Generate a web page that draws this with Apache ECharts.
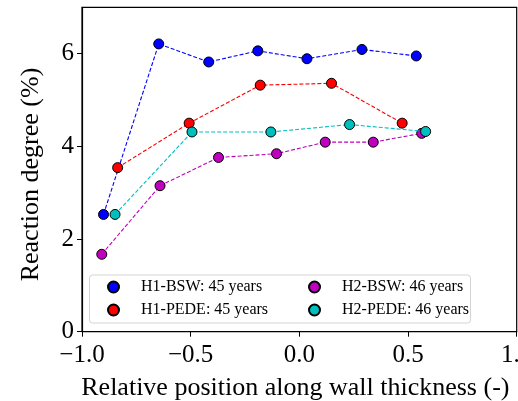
<!DOCTYPE html>
<html>
<head>
<meta charset="utf-8">
<script src="https://cdn.jsdelivr.net/npm/echarts@6/dist/echarts.min.js"></script>
<style>
  html, body { margin: 0; padding: 0; background: #fff; }
  #chart { width: 518px; height: 401px; }
</style>
</head>
<body>
<div id="chart"></div>
<script>
// Reaction degree profiles across the wall (relative position -1 .. 1)
const h1BswX = [-0.901, -0.647, -0.417, -0.191, 0.035, 0.288, 0.538];
const h1BswY = [2.53, 6.21, 5.82, 6.06, 5.89, 6.09, 5.95];

const h1PedeX = [-0.836, -0.507, -0.180, 0.148, 0.473];
const h1PedeY = [3.54, 4.50, 5.32, 5.36, 4.50];

const h2BswX = [-0.909, -0.641, -0.372, -0.105, 0.119, 0.340, 0.563];
const h2BswY = [1.67, 3.15, 3.76, 3.84, 4.09, 4.09, 4.28];

const h2PedeX = [-0.848, -0.494, -0.131, 0.231, 0.581];
const h2PedeY = [2.53, 4.31, 4.31, 4.47, 4.32];

const seriesNames = ['H1-BSW: 45 years', 'H1-PEDE: 45 years', 'H2-BSW: 46 years', 'H2-PEDE: 46 years'];
const seriesColors = ['#0000ff', '#ff0000', '#bf00bf', '#00bfbf'];
const yTicks = [0, 2, 4, 6];

const FONT = '"Liberation Serif", "Times New Roman", serif';

function pairs(xs, ys) {
  return xs.map((x, i) => [x, ys[i]]);
}

function lineSeries(idx, xs, ys) {
  return {
    name: seriesNames[idx],
    type: 'line',
    data: pairs(xs, ys),
    symbol: 'circle',
    symbolSize: 10,
    z: 2 + idx * 0.1,
    itemStyle: { color: seriesColors[idx], borderColor: '#000', borderWidth: 1 },
    lineStyle: { color: seriesColors[idx], width: 1.1, type: [4, 2] },
    emphasis: { disabled: true },
    animation: false
  };
}

// Two legend columns; square icon slot, text pushed right with padding
const legendCommon = {
  orient: 'vertical',
  icon: 'circle',
  padding: 0,
  itemWidth: 11,
  itemHeight: 11,
  itemGap: 7,
  top: 279,
  z: 10,
  selectedMode: false,
  textStyle: { fontFamily: FONT, fontSize: 16, color: '#000', lineHeight: 16, padding: [0, 0, 0, 17] }
};

const chart = echarts.init(document.getElementById('chart'), null, { renderer: 'canvas' });
chart.setOption({
  backgroundColor: '#fff',
  animation: false,
  grid: {
    left: 82, right: 1.3, top: 7.3, bottom: 69.3,
    outerBoundsMode: 'none',
    containLabel: false,
    show: true, borderColor: '#000', borderWidth: 1.2
  },
  xAxis: {
    type: 'value', min: -1, max: 1, interval: 0.5,
    name: 'Relative position along wall thickness (-)',
    nameLocation: 'middle', nameGap: 43,
    nameTextStyle: { fontFamily: FONT, fontSize: 26, color: '#000', padding: [0, 8, 0, 0] },
    axisLine: { onZero: false, lineStyle: { color: '#000', width: 1.2 } },
    axisTick: { inside: false, length: 5, lineStyle: { color: '#000', width: 1 } },
    axisLabel: {
      fontFamily: FONT, fontSize: 25, color: '#000', margin: 11,
      hideOverlap: false,
      formatter: v => v.toFixed(1).replace('-', '\u2212')
    },
    splitLine: { show: false }
  },
  yAxis: {
    type: 'value', min: 0, max: 7, interval: 2,
    name: 'Reaction degree (%)',
    nameLocation: 'middle', nameGap: 38,
    nameTextStyle: { fontFamily: FONT, fontSize: 26, color: '#000', padding: [0, 10, 0, 0] },
    axisLine: { onZero: false, lineStyle: { color: '#000', width: 1.2 } },
    axisTick: { inside: false, length: 5, customValues: yTicks, lineStyle: { color: '#000', width: 1 } },
    axisLabel: {
      fontFamily: FONT, fontSize: 25, color: '#000', margin: 8,
      customValues: yTicks
    },
    splitLine: { show: false }
  },
  legend: [
    Object.assign({ left: 107, data: [seriesNames[0], seriesNames[1]] }, legendCommon),
    Object.assign({ left: 308, data: [seriesNames[2], seriesNames[3]] }, legendCommon)
  ],
  graphic: [{
    type: 'rect',
    z: 5,
    shape: { x: 89.5, y: 275, width: 381, height: 48, r: 3 },
    style: { fill: 'rgba(255,255,255,0.8)', stroke: '#d4d4d4', lineWidth: 1 }
  }],
  series: [
    lineSeries(0, h1BswX, h1BswY),
    lineSeries(1, h1PedeX, h1PedeY),
    lineSeries(2, h2BswX, h2BswY),
    lineSeries(3, h2PedeX, h2PedeY)
  ]
});
</script>
</body>
</html>
